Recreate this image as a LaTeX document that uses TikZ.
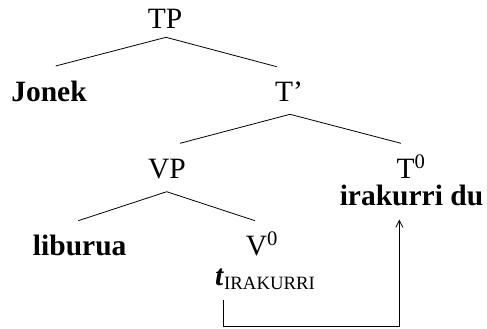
\documentclass[tikz,border=0pt]{standalone}
\usepackage{fontspec}
\setmainfont{Liberation Serif}
\usetikzlibrary{arrows.meta}
\begin{document}
\begin{tikzpicture}[x=1pt,y=-1pt,
  lbl/.style={inner sep=0pt,anchor=base,font=\fontsize{29.5}{32}\selectfont},
  blbl/.style={lbl,font=\fontsize{29.5}{32}\selectfont\bfseries},
  edge/.style={line width=0.8pt},
  move/.style={line width=0.8pt,-{Straight Barb[length=7pt,width=7pt]}}]
\useasboundingbox (0,0) rectangle (487,329);
% nodes
\node[lbl]  (TP)    at (165,29)  {TP};
\node[blbl] (Jonek) at (49,101)  {Jonek};
\node[lbl]  (Tbar)  at (289,101) {T'};
\node[lbl]  (VP)    at (167,178) {VP};
\node[lbl]  (T0)    at (411,178) {T\textsuperscript{0}};
\node[blbl] (irak)  at (411.5,205) {irakurri du};
\node[blbl] (lib)   at (79.7,255) {liburua};
\node[lbl]  (V0)    at (262,255) {V\textsuperscript{0}};
\node[lbl,anchor=base west] (trace) at (215,285) {\textbf{\textit{t}}\raisebox{-4pt}{\fontsize{18.8}{20}\selectfont IRAKURRI}};
% edge end points
\coordinate (TPb) at (166,37.3);
\coordinate (Jt)  at (55.7,66);
\coordinate (Tbt) at (276.7,66.7);
\coordinate (Tbb) at (290,114.3);
\coordinate (VPt) at (180,143.3);
\coordinate (T0t) at (401,143.3);
\coordinate (VPb) at (166.7,191.7);
\coordinate (libt) at (78.3,220.7);
\coordinate (V0t) at (255,220.7);
\coordinate (trb) at (223.3,299.5);
\coordinate (arrB) at (223.3,326.7);
\coordinate (arrC) at (399.3,326.7);
\coordinate (irb) at (399.3,219.5);
% edges
\draw[edge] (Jt) -- (TPb) -- (Tbt);
\draw[edge] (VPt) -- (Tbb) -- (T0t);
\draw[edge] (libt) -- (VPb) -- (V0t);
% movement arrow
\draw[move] (trb) -- (arrB) -- (arrC) -- (irb);
\end{tikzpicture}
\end{document}
